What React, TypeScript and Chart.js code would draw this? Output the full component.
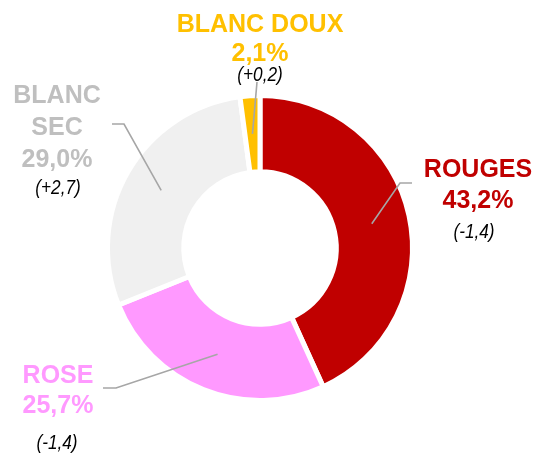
import React, { useEffect, useRef } from "react";
import { Chart, registerables } from "chart.js";

Chart.register(...registerables);

// ---- data ----
const categories = ["ROUGES", "ROSE", "BLANC SEC", "BLANC DOUX"];
const shares = [43.2, 25.7, 29.0, 2.1];
const changes = [-1.4, -1.4, 2.7, 0.2];
const sliceColors = ["#C00000", "#FF99FF", "#F0F0F0", "#FFC000"];
const labelColors = ["#C00000", "#FF99FF", "#BFBFBF", "#FFC000"];

// ---- label layout (positions of annotation text, not data) ----
type LabelLayout = {
  titleLines: string[];
  x: number;
  baselines: number[]; // one per title line, then pct, then change
  changeX: number;
  elbow: [number, number] | null;
  end: [number, number];
};
const labelLayout: LabelLayout[] = [
  { titleLines: ["ROUGES"], x: 478, baselines: [177, 208, 238], changeX: 474, elbow: [400, 183], end: [412, 183] },
  { titleLines: ["ROSE"], x: 58, baselines: [383, 413, 449], changeX: 57, elbow: [116, 388], end: [103, 388] },
  { titleLines: ["BLANC", "SEC"], x: 57, baselines: [103, 135, 167, 194], changeX: 58, elbow: [124, 124], end: [112, 124] },
  { titleLines: ["BLANC DOUX"], x: 260, baselines: [32, 61, 81], changeX: 260, elbow: null, end: [257, 82] },
];

const fmtPct = (v: number) => v.toFixed(1).replace(".", ",") + "%";
const fmtChg = (v: number) => "(" + (v >= 0 ? "+" : "-") + Math.abs(v).toFixed(1).replace(".", ",") + ")";

const NARROW = 0.82;

const labelPlugin = {
  id: "sliceLabels",
  afterDraw(chart: any) {
    const ctx = chart.ctx as CanvasRenderingContext2D;
    const meta = chart.getDatasetMeta(0);
    ctx.save();
    meta.data.forEach((arc: any, i: number) => {
      const L = labelLayout[i];
      if (!L) return;
      const c = arc.getCenterPoint();
      // leader line
      ctx.beginPath();
      ctx.strokeStyle = "#A6A6A6";
      ctx.lineWidth = 1.6;
      ctx.moveTo(c.x, c.y);
      if (L.elbow) ctx.lineTo(L.elbow[0], L.elbow[1]);
      ctx.lineTo(L.end[0], L.end[1]);
      ctx.stroke();
      // text
      ctx.textAlign = "center";
      ctx.textBaseline = "alphabetic";
      ctx.fillStyle = labelColors[i];
      ctx.font = "bold 25px 'Liberation Sans', Arial, sans-serif";
      L.titleLines.forEach((t, k) => ctx.fillText(t, L.x, L.baselines[k]));
      const n = L.titleLines.length;
      ctx.fillText(fmtPct(shares[i]), L.x, L.baselines[n]);
      // condensed italic change label
      ctx.save();
      ctx.translate(L.changeX, L.baselines[n + 1]);
      ctx.scale(NARROW, 1);
      ctx.fillStyle = "#000000";
      ctx.font = "italic 21px 'Liberation Sans', Arial, sans-serif";
      ctx.fillText(fmtChg(changes[i]), 0, 0);
      ctx.restore();
    });
    ctx.restore();
  },
};

export default function App() {
  const ref = useRef<HTMLCanvasElement | null>(null);
  useEffect(() => {
    if (!ref.current) return;
    const chart = new Chart(ref.current, {
      type: "doughnut",
      data: {
        labels: categories,
        datasets: [
          {
            data: shares,
            backgroundColor: sliceColors,
            borderColor: "#FFFFFF",
            borderWidth: 5,
          },
        ],
      },
      options: {
        animation: false,
        responsive: false,
        cutout: "50%",
        rotation: 0,
        layout: { padding: { left: 105, right: 121, top: 93, bottom: 51 } },
        plugins: { legend: { display: false }, tooltip: { enabled: false } },
      },
      plugins: [labelPlugin],
    });
    return () => chart.destroy();
  }, []);
  return (
    <div style={{ position: "fixed", left: 0, top: 0, width: 536, height: 454, background: "#fff" }}>
      <canvas ref={ref} width={536} height={454} style={{ width: 536, height: 454, display: "block" }} />
    </div>
  );
}
